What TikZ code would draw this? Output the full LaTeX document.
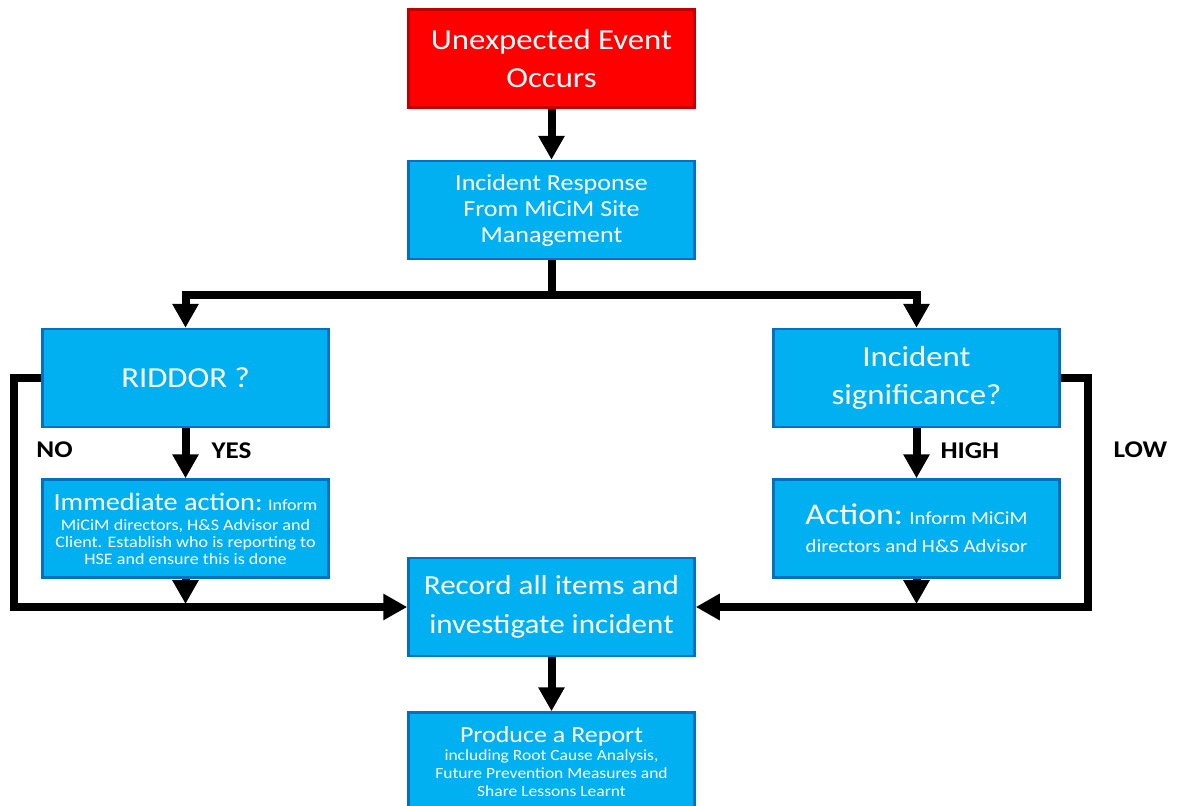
\documentclass[tikz,border=0pt]{standalone}
\usepackage{fontspec}
\setmainfont{Carlito}[FakeStretch=1.13]
\usetikzlibrary{positioning, arrows.meta}
\definecolor{boxblue}{HTML}{00B0F0}
\definecolor{edgeblue}{HTML}{0070C0}
\definecolor{boxred}{HTML}{FF0000}
\definecolor{edgered}{HTML}{C00000}
\tikzset{
    x=1pt, y=1pt,
    node distance=51pt,     % gap between two boxes
    every node/.style={
        align=center,
    },
    box/.style={            % default style for all boxes
        draw=edgeblue,
        line width=2.5pt,
        fill=boxblue,       % fill color
        text=white,
        minimum width=286pt,
        minimum height=98pt,
        inner sep=3pt
    },
    alarm/.style={          % style for the starting box
        box,
        draw=edgered,
        fill=boxred
    },
    wire/.style={           % plain thick line
        draw,
        line width=8pt
    },
    link/.style={           % thick line with arrow head
        wire,
        -{Triangle[width=25pt, length=24pt]}
    },
    answer/.style={         % YES / NO / HIGH / LOW
        font=\fontsize{24}{28}\selectfont\bfseries,
        inner sep=0pt
    }
}

\begin{document}
\begin{tikzpicture}
                \useasboundingbox (0,0) rectangle (1181,-806);
                \node[alarm, font=\fontsize{29}{38}\selectfont] (event) at (551.5,-58.5) {Unexpected Event\\Occurs};
                \node[box, below=of event, font=\fontsize{23}{26}\selectfont] (response) {Incident Response\\From MiCiM Site\\Management};
                \node[box, font=\fontsize{29}{38}\selectfont] (riddor) at (185.5,-378) {RIDDOR ?};
                \node[box, font=\fontsize{29}{38}\selectfont] (signif) at (916.5,-378) {Incident\\significance?};
                \node[box, below=50pt of riddor, font=\fontsize{16}{17}\selectfont] (immediate) {{\fontsize{25}{25}\selectfont Immediate action:} Inform\\[3pt]MiCiM directors, H\&S Advisor and\\Client. Establish who is reporting to\\HSE and ensure this is done};
                \node[box, below=50pt of signif, font=\fontsize{18.5}{21}\selectfont] (action) {{\fontsize{30}{30}\selectfont Action:} Inform MiCiM\\[7pt]directors and H\&S Advisor};
                \node[box, font=\fontsize{27.5}{39}\selectfont] (record) at (551.5,-607) {Record all items and\\investigate incident};
                \node[box, below=54pt of record, font=\fontsize{15.5}{18}\selectfont] (report) {{\fontsize{23}{18}\selectfont Produce a Report}\\including Root Cause Analysis,\\Future Prevention Measures and\\Share Lessons Learnt};
                \draw[link] (event) -- (response);
                \draw[wire] (response.south) -- ++(0,-35) coordinate (split);
                \draw[link] (split) -| (riddor.north);
                \draw[link] (split) -| (signif.north);
                \draw[link] (riddor) -- (immediate) node[answer, midway, right=22pt, yshift=3pt] {YES};
                \draw[link] (signif) -- (action) node[answer, midway, right=20pt, yshift=3pt] {HIGH};
                \draw[link] (riddor.west) -- ++(-27,0) |- (record.west);
                \draw[link] (signif.east) -- ++(27,0) |- (record.east);
                \draw[link, shorten >=3pt] (immediate) -- (immediate.south |- record.west);
                \draw[link, shorten >=3pt] (action) -- (action.south |- record.east);
                \draw[link] (record) -- (report);
                \node[answer] (no) at (54.5,-450) {NO};
                \node[answer] (low) at (1140.5,-450) {LOW};
            \end{tikzpicture}
\end{document}
